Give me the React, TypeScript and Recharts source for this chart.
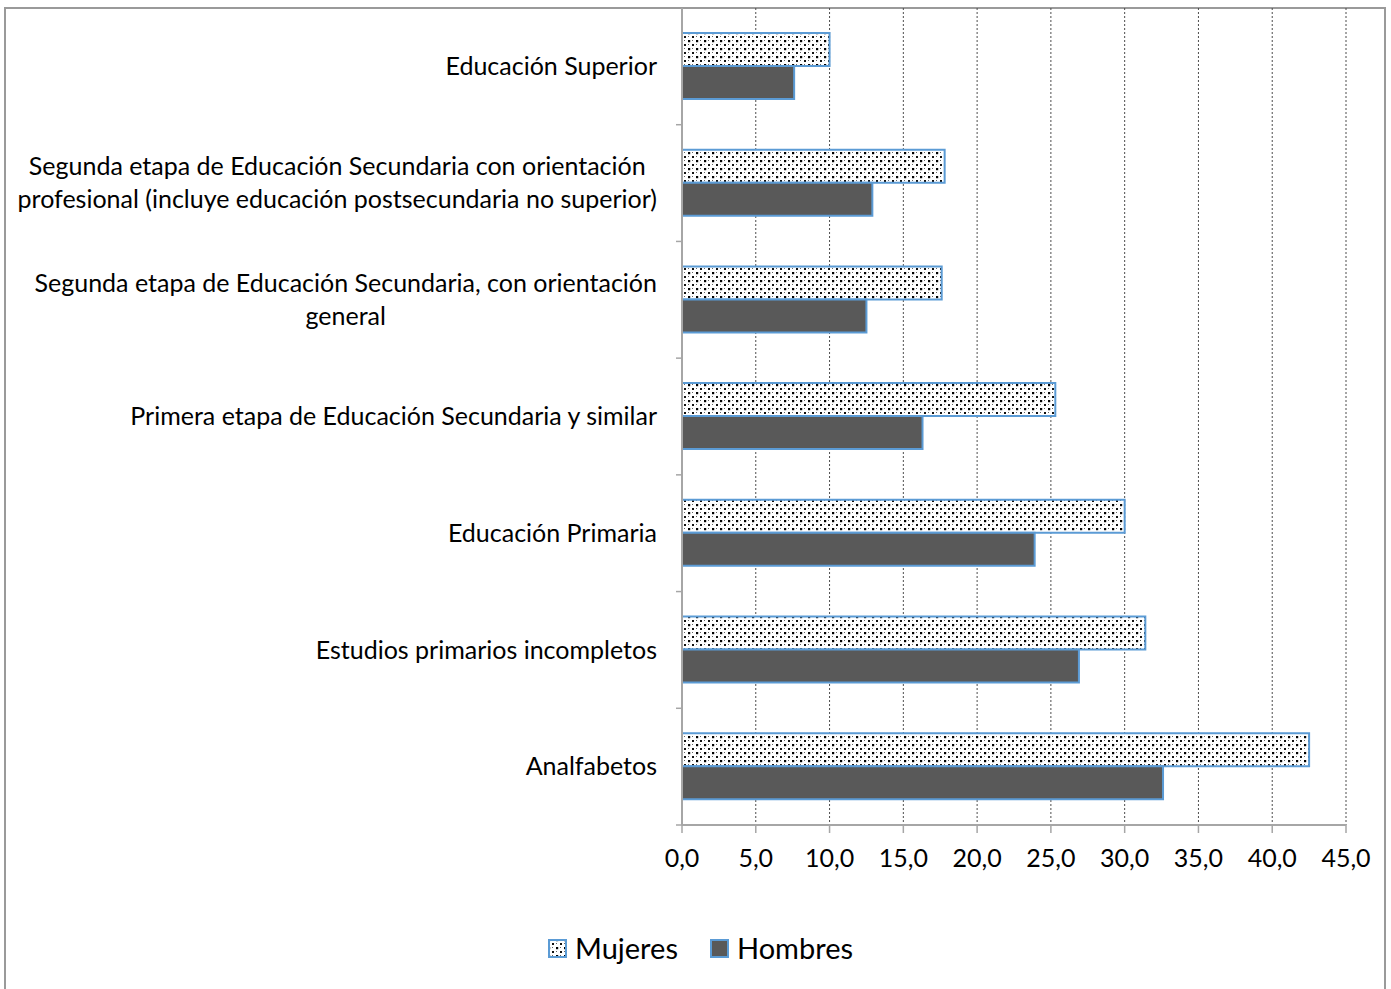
import { BarChart, Bar, XAxis, YAxis, CartesianGrid } from 'recharts';

const categories = [
  'Educación Superior',
  'Segunda etapa de Educación Secundaria con orientación\nprofesional (incluye educación postsecundaria no superior)',
  'Segunda etapa de Educación Secundaria, con orientación\ngeneral',
  'Primera etapa de Educación Secundaria y similar',
  'Educación Primaria',
  'Estudios primarios incompletos',
  'Analfabetos',
];
const mujeres = [10.0, 17.8, 17.6, 25.3, 30.0, 31.4, 42.5];
const hombres = [7.6, 12.9, 12.5, 16.3, 23.9, 26.9, 32.6];
const xTicks = [0, 5, 10, 15, 20, 25, 30, 35, 40, 45];

const data = categories.map((name, i) => ({ name, Mujeres: mujeres[i], Hombres: hombres[i] }));

const FONT = 'Lato, "Open Sans", sans-serif';
const LABEL_SIZE = 25;
const AXIS_GRAY = '#a6a6a6';
const BLUE = '#5b9bd5';
const DARK = '#595959';

const PLOT_TOP = 8;
const PLOT_BOTTOM = 825;
const HALF_BAND = (PLOT_BOTTOM - PLOT_TOP) / categories.length / 2;

let ctx: CanvasRenderingContext2D | null = null;
function measure(text: string) {
  if (!ctx) ctx = document.createElement('canvas').getContext('2d');
  if (!ctx) return text.length * LABEL_SIZE * 0.48;
  ctx.font = `${LABEL_SIZE}px Lato`;
  return ctx.measureText(text).width;
}

function CategoryTick(props: any) {
  const { x, y, payload } = props;
  const lines = String(payload.value).split('\n');
  const right = x - 25;
  const lineH = 33;
  let anchor: 'end' | 'middle' = 'end';
  let tx = right;
  if (lines.length > 1) {
    const w = Math.max(...lines.map(measure));
    anchor = 'middle';
    tx = right - w / 2;
  }
  return (
    <g>
      <line x1={x - 6} x2={x} y1={y + HALF_BAND} y2={y + HALF_BAND} stroke={AXIS_GRAY} strokeWidth={1.5} />
      {lines.map((l, i) => (
        <text
          key={i}
          x={tx}
          y={y + (i - (lines.length - 1) / 2) * lineH}
          dy="0.35em"
          textAnchor={anchor}
          fontSize={LABEL_SIZE}
          fontFamily={FONT}
          fill="#000"
        >
          {l}
        </text>
      ))}
    </g>
  );
}

function Swatch({ fill }: { fill: string }) {
  return (
    <svg width={19} height={19} style={{ display: 'block' }}>
      <rect x={1} y={1} width={17} height={17} fill={fill} stroke={BLUE} strokeWidth={2} />
    </svg>
  );
}

export default function App() {
  return (
    <div style={{ position: 'fixed', left: 0, top: 0, width: 1391, height: 989, overflow: 'hidden', background: '#fff' }}>
      <svg width={0} height={0} style={{ position: 'absolute' }}>
        <defs>
          <pattern id="dots" width={8} height={8} patternUnits="userSpaceOnUse">
            <rect width={8} height={8} fill="#fff" />
            <rect x={0} y={0} width={2.2} height={2.2} fill="#000" />
            <rect x={4} y={4} width={2} height={2} fill="#111" />
            <rect x={4} y={0} width={1} height={1} fill="#666" />
            <rect x={0} y={4} width={1} height={1} fill="#666" />
          </pattern>
        </defs>
      </svg>
      <div
        style={{
          position: 'absolute',
          left: 4,
          top: 7,
          width: 1378,
          height: 1000,
          border: '2px solid #9a9a9a',
        }}
      />
      <div style={{ position: 'absolute', left: 0, top: 0 }}>
        <BarChart
          width={1391}
          height={989}
          data={data}
          layout="vertical"
          margin={{ top: PLOT_TOP, right: 45, left: 0, bottom: 104 }}
          barCategoryGap="21.4%"
          barGap={0}
        >
          <CartesianGrid horizontal={false} stroke="#4d4d4d" strokeDasharray="2 2" />
          <XAxis
            type="number"
            domain={[0, 45]}
            ticks={xTicks}
            height={60}
            tickFormatter={(v: number) => v.toFixed(1).replace('.', ',')}
            axisLine={{ stroke: AXIS_GRAY, strokeWidth: 2 }}
            tickLine={{ stroke: AXIS_GRAY, strokeWidth: 1.5 }}
            tickSize={8}
            tickMargin={16}
            tick={{ fill: '#000', fontSize: LABEL_SIZE, fontFamily: FONT }}
          />
          <YAxis
            type="category"
            dataKey="name"
            width={682}
            interval={0}
            axisLine={{ stroke: AXIS_GRAY, strokeWidth: 2 }}
            tickLine={false}
            tickSize={0}
            tickMargin={0}
            tick={<CategoryTick />}
          />
          <Bar dataKey="Mujeres" fill="url(#dots)" stroke={BLUE} strokeWidth={2} isAnimationActive={false} />
          <Bar dataKey="Hombres" fill={DARK} stroke={BLUE} strokeWidth={2} isAnimationActive={false} />
        </BarChart>
      </div>
      <div
        style={{
          position: 'absolute',
          left: 548,
          top: 928,
          display: 'flex',
          alignItems: 'center',
          fontFamily: FONT,
          fontSize: 29,
          color: '#000',
          lineHeight: '40px',
        }}
      >
        <Swatch fill="url(#dots)" />
        <span style={{ marginLeft: 8, marginRight: 32 }}>Mujeres</span>
        <Swatch fill={DARK} />
        <span style={{ marginLeft: 8 }}>Hombres</span>
      </div>
    </div>
  );
}
